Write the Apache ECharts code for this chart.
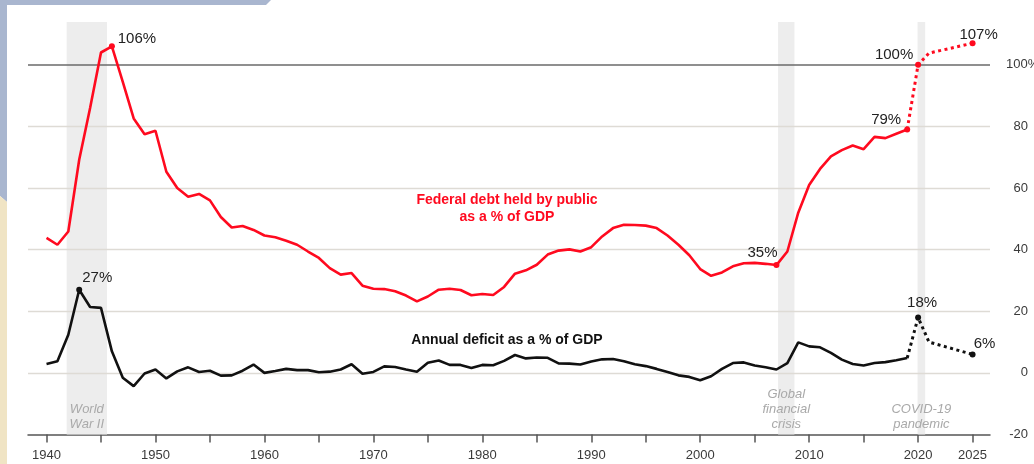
<!DOCTYPE html>
<html>
<head>
<meta charset="utf-8">
<script src="https://cdn.jsdelivr.net/npm/echarts@6/dist/echarts.min.js"></script>
<style>
  html, body { margin: 0; padding: 0; background: #ffffff; }
  #chart { width: 1034px; height: 464px; }
</style>
</head>
<body>
<div id="chart"></div>
<script>
// U.S. federal debt held by the public and annual deficit, % of GDP
const firstYear = 1940;

// Debt held by public, 1940-2019 (% of GDP)
const debtHistory = [
  43.8, 41.6, 45.9, 69.2, 86.0, 104.0, 106.0, 94.5, 82.6, 77.5,
  78.6, 65.3, 60.0, 57.2, 58.1, 56.0, 50.6, 47.2, 47.7, 46.4,
  44.6, 44.0, 42.9, 41.6, 39.4, 37.3, 34.0, 31.9, 32.4, 28.3,
  27.3, 27.2, 26.5, 25.1, 23.2, 24.8, 27.0, 27.3, 26.9, 25.2,
  25.6, 25.3, 27.9, 32.2, 33.3, 35.1, 38.4, 39.7, 40.1, 39.4,
  40.8, 44.3, 47.0, 48.1, 48.0, 47.8, 47.0, 44.6, 41.6, 38.2,
  33.7, 31.5, 32.6, 34.6, 35.6, 35.7, 35.4, 35.0, 39.4, 52.0,
  61.0, 66.2, 70.3, 72.3, 73.8, 72.6, 76.6, 76.2, 77.6, 79.0
];

// Annual deficit, 1940-2019 (% of GDP)
const deficitHistory = [
  2.9, 3.8, 12.4, 27.0, 21.4, 21.1, 7.0, -1.6, -4.3, -0.2,
  1.1, -1.8, 0.5, 1.8, 0.3, 0.7, -0.9, -0.8, 0.7, 2.7,
  0.0, 0.6, 1.3, 0.9, 0.9, 0.2, 0.4, 1.1, 2.8, -0.3,
  0.3, 2.1, 1.9, 1.1, 0.4, 3.3, 4.0, 2.6, 2.6, 1.6,
  2.6, 2.5, 3.9, 5.8, 4.7, 5.0, 4.9, 3.1, 3.0, 2.7,
  3.7, 4.4, 4.5, 3.8, 2.8, 2.2, 1.3, 0.3, -0.8, -1.3,
  -2.4, -1.1, 1.3, 3.2, 3.4, 2.4, 1.8, 1.1, 3.2, 9.9,
  8.6, 8.3, 6.5, 4.3, 2.9, 2.4, 3.2, 3.5, 4.1, 4.8
];

// Projections
const debtProjYears = [2019, 2020, 2021, 2022, 2025];
const debtProj = [79, 100, 103.8, 104.6, 107];
const deficitProjYears = [2019, 2020, 2021, 2025];
const deficitProj = [4.8, 18, 10, 6];

// Shaded periods
const periodNames = ['World\nWar II', 'Global\nfinancial\ncrisis', 'COVID-19\npandemic'];
const periodStart = [1941.85, 2007.15, 2019.95];
const periodEnd = [1945.55, 2008.65, 2020.65];

// Axis ticks
const yLabelValues = [-20, 0, 20, 40, 60, 80];
const gridValues = [0, 20, 40, 60, 80];
const refValue = 100;
const xTickYears = [1940, 1945, 1950, 1955, 1960, 1965, 1970, 1975, 1980, 1985,
  1990, 1995, 2000, 2005, 2010, 2015, 2020, 2025];
const xLabelYears = [1940, 1950, 1960, 1970, 1980, 1990, 2000, 2010, 2020, 2025];

// Values called out on the chart
const debtCallouts = { 1946: '106%', 2007: '35%', 2019: '79%' };
const debtProjCallouts = { 2020: '100%', 2025: '107%' };
const deficitCallouts = { 1943: '27%' };
const deficitProjCallouts = { 2020: '18%', 2025: '6%' };

const RED = '#ff0a1f';
const BLACK = '#111111';
const FONT = '"Liberation Sans", Arial, Helvetica, sans-serif';

// label offsets relative to the marked point
const calloutOffset = {
  '106%': [25, -7], '35%': [-14, -12], '79%': [-21, -10],
  '100%': [-24, -10], '107%': [6, -8], '27%': [18, -12],
  '18%': [4, -15], '6%': [12, -11]
};

function buildData(years, values, callouts) {
  return values.map((v, i) => {
    const yr = years[i];
    const text = callouts[yr];
    if (!text) return { value: [yr, v], symbolSize: 0 };
    return {
      value: [yr, v],
      symbol: 'circle',
      symbolSize: 6,
      label: {
        show: true,
        position: 'inside',
        offset: calloutOffset[text],
        formatter: text,
        color: '#222',
        fontSize: 15,
        fontFamily: FONT
      }
    };
  });
}

const histYears = debtHistory.map((_, i) => firstYear + i);

const chart = echarts.init(document.getElementById('chart'), null, { renderer: 'canvas' });

const baseLine = (name, color, data, dotted, z) => ({
  name,
  type: 'line',
  data,
  z,
  symbol: 'circle',
  symbolSize: 0,
  showSymbol: true,
  showAllSymbol: true,
  itemStyle: { color },
  lineStyle: dotted
    ? { color, width: 3, type: [3, 3.5], cap: 'butt' }
    : { color, width: 2.6 },
  emphasis: { disabled: true },
  animation: false
});

chart.setOption({
  animation: false,
  backgroundColor: '#ffffff',
  grid: { left: 28, right: 44, top: 22, bottom: 29.5 },
  xAxis: {
    type: 'value',
    min: 1938.3,
    max: 2026.6,
    splitLine: { show: false },
    axisLine: { show: true, onZero: false, lineStyle: { color: '#555', width: 1.5 } },
    axisTick: {
      show: true, length: 8, customValues: xTickYears,
      lineStyle: { color: '#555', width: 1.5 }
    },
    axisLabel: {
      customValues: xLabelYears,
      margin: 14,
      color: '#3a3a3a',
      fontSize: 13,
      fontFamily: FONT,
      formatter: v => String(v)
    }
  },
  yAxis: {
    type: 'value',
    position: 'right',
    min: -20,
    max: 113.9,
    splitLine: { show: false },
    axisLine: { show: false },
    axisTick: { show: false },
    axisLabel: {
      customValues: yLabelValues,
      align: 'right',
      margin: 38,
      padding: [0, 0, 9, 0],
      color: '#3a3a3a',
      fontSize: 13,
      fontFamily: FONT
    }
  },
  graphic: [
    { type: 'polygon', z: -10, silent: true,
      shape: { points: [[0, 0], [271, 0], [266, 5], [0, 5]] },
      style: { fill: '#a9b6cf' } },
    { type: 'polygon', z: -10, silent: true,
      shape: { points: [[0, 0], [7, 0], [7, 202], [0, 196]] },
      style: { fill: '#a9b6cf' } },
    { type: 'polygon', z: -10, silent: true,
      shape: { points: [[0, 196], [7, 202], [7, 464], [0, 464]] },
      style: { fill: '#f0e4c4' } },
    { type: 'text', z: 50, silent: true,
      style: {
        x: 507, y: 209, text: 'Federal debt held by public\nas a % of GDP',
        align: 'center', verticalAlign: 'middle', lineHeight: 17,
        font: 'bold 14px ' + FONT, fill: RED
      } },
    { type: 'text', z: 50, silent: true,
      style: {
        x: 507, y: 340, text: 'Annual deficit as a % of GDP',
        align: 'center', verticalAlign: 'middle',
        font: 'bold 14px ' + FONT, fill: BLACK
      } }
  ],
  series: [
    {
      name: 'frame',
      type: 'line',
      data: [],
      z: 1,
      silent: true,
      markArea: {
        silent: true,
        itemStyle: { color: '#ededed' },
        label: {
          show: true,
          position: 'insideBottom',
          distance: 3,
          color: '#a9a9a9',
          fontStyle: 'italic',
          fontSize: 13,
          lineHeight: 15,
          fontFamily: FONT
        },
        data: periodNames.map((n, i) => [
          { name: n, xAxis: periodStart[i] },
          { xAxis: periodEnd[i] }
        ])
      },
      markLine: {
        silent: true,
        symbol: 'none',
        animation: false,
        label: { show: false },
        lineStyle: { color: '#dedbd5', width: 1.3, type: 'solid' },
        data: gridValues.map(v => ({ yAxis: v })).concat([{
          yAxis: refValue,
          lineStyle: { color: '#6a6a6a', width: 1.5, type: 'solid' },
          label: {
            show: true,
            position: 'end',
            distance: 16,
            formatter: refValue + '%',
            padding: [0, 0, 9, 0],
            color: '#3a3a3a',
            fontSize: 13,
            fontFamily: FONT
          }
        }])
      }
    },
    baseLine('Federal debt held by public', RED,
      buildData(histYears, debtHistory, debtCallouts), false, 5),
    baseLine('Federal debt held by public (projected)', RED,
      buildData(debtProjYears, debtProj, debtProjCallouts), true, 5),
    baseLine('Annual deficit', BLACK,
      buildData(histYears, deficitHistory, deficitCallouts), false, 5),
    baseLine('Annual deficit (projected)', BLACK,
      buildData(deficitProjYears, deficitProj, deficitProjCallouts), true, 5)
  ]
});
</script>
</body>
</html>
